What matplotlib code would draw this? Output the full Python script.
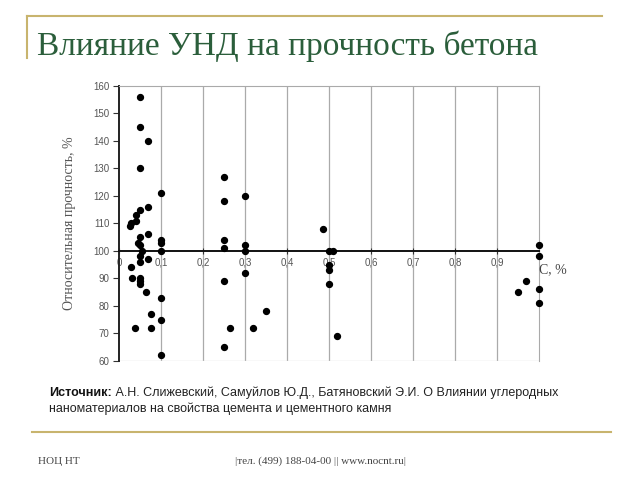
import matplotlib
matplotlib.use('Agg')
import matplotlib.pyplot as plt
from matplotlib.lines import Line2D

# data (C, % vs relative strength, %)
conc = [0.05, 0.05, 0.068, 0.05, 0.05, 0.07, 0.10, 0.25, 0.25, 0.30,
        0.04, 0.04, 0.025, 0.029, 0.05, 0.046, 0.05, 0.069, 0.10, 0.10,
        0.10, 0.054, 0.05, 0.05, 0.069, 0.028, 0.03, 0.05, 0.05, 0.05,
        0.064, 0.10, 0.076, 0.038, 0.075, 0.10, 0.10, 0.25, 0.25, 0.25,
        0.25, 0.265, 0.30, 0.30, 0.30, 0.32, 0.35, 0.485, 0.50, 0.51,
        0.50, 0.50, 0.50, 0.52, 1.0, 1.0, 1.0, 1.0, 0.97, 0.95]
strength = [156, 145, 140, 130, 115, 116, 121, 127, 118, 120,
            113, 111, 109, 110, 105, 103, 102, 106, 104, 103,
            100, 100, 98, 96, 97, 94, 90, 90, 89, 88,
            85, 83, 77, 72, 72, 75, 62, 104, 101, 89,
            65, 72, 102, 100, 92, 72, 78, 108, 100, 100,
            95, 93, 88, 69, 102, 98, 86, 81, 89, 85]

xticks = [0, 0.1, 0.2, 0.3, 0.4, 0.5, 0.6, 0.7, 0.8, 0.9, 1.0]
xlabels = ['0', '0,1', '0,2', '0,3', '0,4', '0,5', '0,6', '0,7', '0,8', '0,9', '']
yticks = list(range(60, 161, 10))

title = 'Влияние УНД на прочность бетона'
source_bold = 'Источник:'
source_rest = ' А.Н. Слижевский, Самуйлов Ю.Д., Батяновский Э.И. О Влиянии углеродных'
source_line2 = 'наноматериалов на свойства цемента и цементного камня'

gold = '#c8b46e'
green = '#2b5e3b'

fig = plt.figure(figsize=(6.4, 4.8), dpi=100)

# slide decorations
fig.add_artist(Line2D([27/640, 602/640], [1-15.5/480, 1-15.5/480], color=gold, lw=1.5))
fig.add_artist(Line2D([27/640, 27/640], [1-15.5/480, 1-58/480], color=gold, lw=1.5))
fig.add_artist(Line2D([32/640, 611/640], [1-432/480, 1-432/480], color=gold, lw=1.5))

fig.text(37/640, 1-55/480, title, fontsize=24, color=green,
         family='Liberation Serif', ha='left', va='baseline')

t1 = fig.text(49/640, 1-393/480, source_bold, fontsize=9, fontweight='bold',
              family='Liberation Sans', va='center', color='#111111')
fig.canvas.draw()
bb = t1.get_window_extent()
fig.text(bb.x1/640, 1-393/480, source_rest, fontsize=9,
         family='Liberation Sans', va='center', color='#222222')
fig.text(49/640, 1-409/480, source_line2, fontsize=9,
         family='Liberation Sans', va='center', color='#222222')

fig.text(38/640, 1-461/480, 'НОЦ НТ', fontsize=8, family='Liberation Serif',
         va='center', color='#444444')
fig.text(235/640, 1-461/480, '|тел. (499) 188-04-00 || www.nocnt.ru|', fontsize=8,
         family='Liberation Serif', va='center', color='#444444')

# chart
ax = fig.add_axes([119/640, 1-361/480, 420/640, 275.3/480])
ax.set_xlim(0, 1.0)
ax.set_ylim(60, 160)

for x in xticks[1:-1]:
    ax.axvline(x, color='#aaaaaa', lw=0.9, zorder=1)
ax.axhline(60, color='#dddddd', lw=1.0, zorder=1)

ax.spines['top'].set_color('#aaaaaa')
ax.spines['right'].set_color('#aaaaaa')
ax.spines['left'].set_color('#222222')
ax.spines['left'].set_linewidth(1.4)
ax.spines['bottom'].set_position(('data', 100))
ax.spines['bottom'].set_color('#111111')
ax.spines['bottom'].set_linewidth(1.4)

ax.set_xticks(xticks)
ax.set_xticklabels(xlabels)
ax.set_yticks(yticks)
ax.tick_params(axis='x', direction='inout', length=4, width=0.8, pad=3,
               labelsize=7, labelcolor='#555555', color='#333333')
ax.tick_params(axis='y', direction='out', length=4, width=0.8, pad=3,
               labelsize=7, labelcolor='#555555', color='#333333')
for lab in ax.get_xticklabels() + ax.get_yticklabels():
    lab.set_family('Liberation Sans')

ax.scatter(conc, strength, s=18, color='black', zorder=3, clip_on=False)

ax.text(1.0, 93, 'C, %', fontsize=10, family='Liberation Serif', color='#444444',
        ha='left', va='center')
ax.set_ylabel('Относительная прочность, %', fontsize=10, family='Liberation Serif',
              color='#555555', labelpad=12)

fig.savefig('out.png', dpi=100)
